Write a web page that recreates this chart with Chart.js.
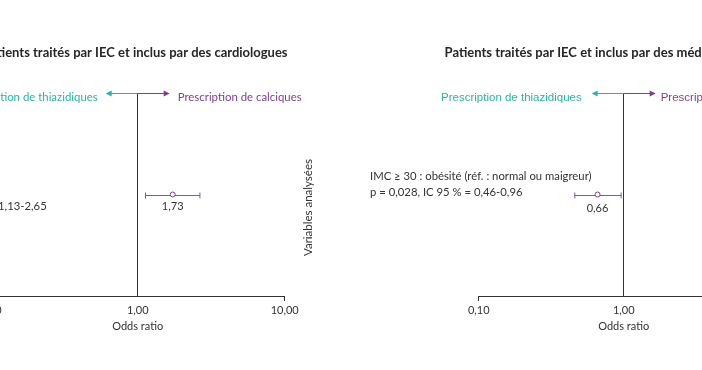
<!DOCTYPE html>
<html><head><meta charset="utf-8">
<script src="https://cdn.jsdelivr.net/npm/chart.js@4/dist/chart.umd.min.js"></script>
<style>
html,body{margin:0;padding:0;width:702px;height:370px;overflow:hidden;background:#fff;position:relative}
canvas{position:absolute;top:0}
#c1{left:-187.7px}
#c2{left:300px}
</style></head><body>
<canvas id="c1" width="646" height="370"></canvas>
<canvas id="c2" width="648" height="370"></canvas>
<script>
// ---- data ----
const tickValues = [0.1, 1, 10];
const tickLabels = ['0,10', '1,00', '10,00'];

const cardioTitle = 'Patients traités par IEC et inclus par des cardiologues';
const cardioCategories = ['Variable'];
const cardioLabelLines = [['IC 95 % = 1,13-2,65']];
const cardioOR = [1.73];
const cardioLow = [1.13];
const cardioHigh = [2.65];
const cardioValueLabels = ['1,73'];

const mgTitle = 'Patients traités par IEC et inclus par des médecins généralistes';
const mgCategories = ['IMC ≥ 30'];
const mgLabelLines = [['IMC ≥ 30 : obésité (réf. : normal ou maigreur)', 'p = 0,028, IC 95 % = 0,46-0,96']];
const mgOR = [0.66];
const mgLow = [0.46];
const mgHigh = [0.96];
const mgValueLabels = ['0,66'];

const leftDirection = 'Prescription de thiazidiques';
const rightDirection = 'Prescription de calciques';
const yAxisTitle = 'Variables analysées';
const xAxisTitle = 'Odds ratio';

// ---- styles ----
const TEAL = '#2cb3a3';
const PURPLE = '#7e3f90';
const BAR = '#8a55a0';
const DARK = '#333333';
const HUMAN = 'Lato, "Open Sans", sans-serif';

function forestPlugin(opts) {
  return {
    id: 'forest' + opts.id,
    beforeDatasetsDraw(chart) {
      const {ctx, scales: {x, y}} = chart;
      ctx.save();
      ctx.strokeStyle = BAR;
      ctx.lineWidth = 1;
      opts.low.forEach((lo, i) => {
        const py = Math.round(y.getPixelForValue(i)) + 0.5;
        const x1 = x.getPixelForValue(lo), x2 = x.getPixelForValue(opts.high[i]);
        ctx.beginPath();
        ctx.moveTo(x1, py); ctx.lineTo(x2, py);
        ctx.moveTo(x1, py - 3); ctx.lineTo(x1, py + 3);
        ctx.moveTo(x2, py - 3); ctx.lineTo(x2, py + 3);
        ctx.stroke();
      });
      ctx.restore();
    },
    afterDatasetsDraw(chart) {
      const {ctx, chartArea, scales: {x, y}} = chart;
      ctx.save();
      // value labels
      ctx.fillStyle = DARK;
      ctx.font = '11px ' + HUMAN;
      ctx.textAlign = 'center';
      ctx.textBaseline = 'middle';
      opts.or.forEach((v, i) => {
        ctx.fillText(opts.valueLabels[i], x.getPixelForValue(v), y.getPixelForValue(i) + opts.valueDy);
      });
      // row labels
      ctx.font = '11.3px ' + HUMAN;
      ctx.textAlign = opts.labelAlign;
      opts.labelLines.forEach((lines, i) => {
        const py = y.getPixelForValue(i);
        lines.forEach((t, k) => {
          ctx.fillText(t, chartArea.left + opts.labelDx, py + opts.labelDy + k * 16);
        });
      });
      // direction arrows
      const x0 = x.getPixelForValue(1);
      const ay = Math.round(chartArea.top) + 0.5;
      const L = 32;
      ctx.lineWidth = 1;
      ctx.strokeStyle = TEAL; ctx.fillStyle = TEAL;
      ctx.beginPath(); ctx.moveTo(x0, ay); ctx.lineTo(x0 - L + 4, ay); ctx.stroke();
      ctx.beginPath(); ctx.moveTo(x0 - L, ay); ctx.lineTo(x0 - L + 6, ay - 3); ctx.lineTo(x0 - L + 6, ay + 3); ctx.closePath(); ctx.fill();
      ctx.strokeStyle = PURPLE; ctx.fillStyle = PURPLE;
      ctx.beginPath(); ctx.moveTo(x0, ay); ctx.lineTo(x0 + L - 4, ay); ctx.stroke();
      ctx.beginPath(); ctx.moveTo(x0 + L, ay); ctx.lineTo(x0 + L - 6, ay - 3); ctx.lineTo(x0 + L - 6, ay + 3); ctx.closePath(); ctx.fill();
      ctx.font = opts.dirFont;
      ctx.textBaseline = 'middle';
      ctx.fillStyle = TEAL; ctx.textAlign = 'right';
      ctx.fillText(leftDirection, x0 - L - opts.dirGapL, ay + 4);
      ctx.fillStyle = PURPLE; ctx.textAlign = 'left';
      ctx.fillText(rightDirection, x0 + L + opts.dirGapR, ay + 4);
      // y axis title
      ctx.save();
      ctx.translate(chartArea.left - 170, (chartArea.top + chartArea.bottom) / 2 + 13);
      ctx.rotate(-Math.PI / 2);
      ctx.fillStyle = DARK;
      ctx.font = '11.5px ' + HUMAN;
      ctx.textAlign = 'center';
      ctx.textBaseline = 'middle';
      ctx.fillText(yAxisTitle, 0, 0);
      ctx.restore();
      ctx.restore();
    }
  };
}

function makeChart(canvasId, o) {
  return new Chart(document.getElementById(canvasId), {
    type: 'scatter',
    data: {
      datasets: [{
        data: o.or.map((v, i) => ({x: v, y: o.categories[i]})),
        pointRadius: 2.5,
        pointHoverRadius: 2.5,
        pointBackgroundColor: '#ffffff',
        pointBorderColor: PURPLE,
        pointBorderWidth: 1
      }]
    },
    options: {
      responsive: false,
      animation: false,
      events: [],
      layout: {padding: {left: 0, right: 0, top: 0, bottom: 36.6}},
      plugins: {
        legend: {display: false},
        tooltip: {enabled: false},
        title: {
          display: true, text: o.title, fullSize: true,
          color: '#262626',
          font: {family: HUMAN, size: 13, weight: 'bold'},
          padding: {top: 45.2, bottom: 32.2}
        }
      },
      scales: {
        x: {
          type: 'logarithmic', min: tickValues[0], max: tickValues[tickValues.length - 1],
          afterBuildTicks: s => { s.ticks = tickValues.map(v => ({value: v})); },
          ticks: {
            color: DARK, font: {family: HUMAN, size: 11}, padding: 3, maxRotation: 0,
            callback: v => tickLabels[tickValues.indexOf(v)]
          },
          grid: {
            drawOnChartArea: true, tickLength: 5, lineWidth: 1,
            color: c => (c.tick && c.tick.value === 1) ? DARK : 'rgba(0,0,0,0)',
            tickColor: c => (c.tick && c.tick.value === 1) ? 'rgba(0,0,0,0)' : DARK
          },
          border: {display: true, color: DARK, width: 1},
          title: {display: true, text: xAxisTitle, color: DARK, font: {family: HUMAN, size: 11}, padding: {top: 0, bottom: 0}}
        },
        y: {
          type: 'category', labels: o.categories, offset: true, position: 'left',
          ticks: {display: false}, grid: {display: false}, border: {display: false},
          afterFit: s => { s.width = 178.7; }
        },
        y2: {
          type: 'category', labels: o.categories, offset: true, position: 'right',
          ticks: {display: false}, grid: {display: false}, border: {display: false},
          afterFit: s => { s.width = o.rightSpace; }
        }
      }
    },
    plugins: [forestPlugin(o)]
  });
}

makeChart('c1', {
  id: 1, title: cardioTitle, categories: cardioCategories, labelLines: cardioLabelLines,
  or: cardioOR, low: cardioLow, high: cardioHigh, valueLabels: cardioValueLabels,
  rightSpace: 173.3,
  valueDy: 12, labelDx: 56, labelDy: 12, labelAlign: 'right',
  dirFont: '11.4px ' + HUMAN, dirGapL: 8, dirGapR: 8
});
makeChart('c2', {
  id: 2, title: mgTitle, categories: mgCategories, labelLines: mgLabelLines,
  or: mgOR, low: mgLow, high: mgHigh, valueLabels: mgValueLabels,
  rightSpace: 179.3,
  valueDy: 14, labelDx: -108.7, labelDy: -18, labelAlign: 'left',
  dirFont: '11.5px "Liberation Sans", Arial, sans-serif', dirGapL: 10, dirGapR: 5
});
</script>
</body></html>
